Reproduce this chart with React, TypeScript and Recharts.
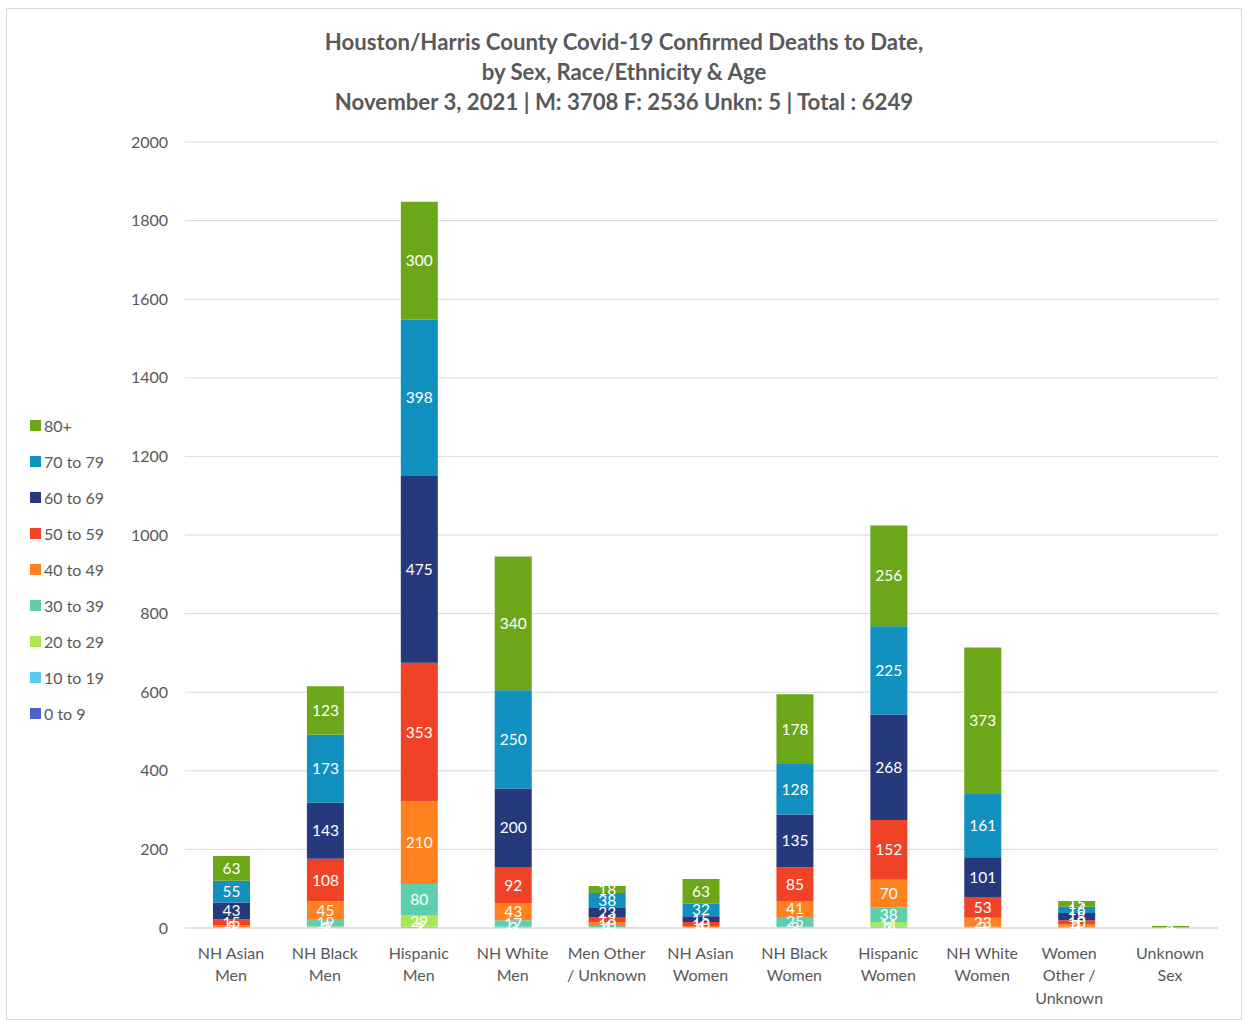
import React from 'react'
import { BarChart, Bar, XAxis, YAxis, CartesianGrid, LabelList } from 'recharts'

const categories = [
  'NH Asian Men', 'NH Black Men', 'Hispanic Men', 'NH White Men', 'Men Other / Unknown',
  'NH Asian Women', 'NH Black Women', 'Hispanic Women', 'NH White Women',
  'Women Other / Unknown', 'Unknown Sex',
]
const categoryLines = [
  ['NH Asian', 'Men'], ['NH Black', 'Men'], ['Hispanic', 'Men'], ['NH White', 'Men'],
  ['Men Other', '/ Unknown'], ['NH Asian', 'Women'], ['NH Black', 'Women'],
  ['Hispanic', 'Women'], ['NH White', 'Women'], ['Women', 'Other /', 'Unknown'],
  ['Unknown', 'Sex'],
]

const age0to9 = [0, 0, 1, 0, 0, 0, 0, 1, 0, 0, 0]
const age10to19 = [0, 1, 2, 0, 0, 0, 0, 3, 0, 0, 0]
const age20to29 = [0, 3, 29, 3, 1, 0, 3, 11, 0, 0, 0]
const age30to39 = [2, 19, 80, 17, 4, 1, 25, 38, 3, 3, 0]
const age40to49 = [5, 45, 210, 43, 10, 4, 41, 70, 23, 7, 0]
const age50to59 = [15, 108, 353, 92, 13, 10, 85, 152, 53, 10, 0]
const age60to69 = [43, 143, 475, 200, 23, 15, 135, 268, 101, 18, 0]
const age70to79 = [55, 173, 398, 250, 38, 32, 128, 225, 161, 16, 1]
const age80plus = [63, 123, 300, 340, 18, 63, 178, 256, 373, 15, 4]

const yTicks = [0, 200, 400, 600, 800, 1000, 1200, 1400, 1600, 1800, 2000]

// bottom to top stacking order
const series = [
  { key: 'a0', name: '0 to 9', values: age0to9, color: '#4B62C8' },
  { key: 'a10', name: '10 to 19', values: age10to19, color: '#5BCBF2' },
  { key: 'a20', name: '20 to 29', values: age20to29, color: '#A9E852' },
  { key: 'a30', name: '30 to 39', values: age30to39, color: '#5ECEB1' },
  { key: 'a40', name: '40 to 49', values: age40to49, color: '#FF8120' },
  { key: 'a50', name: '50 to 59', values: age50to59, color: '#F04226' },
  { key: 'a60', name: '60 to 69', values: age60to69, color: '#27397D' },
  { key: 'a70', name: '70 to 79', values: age70to79, color: '#1290BF' },
  { key: 'a80', name: '80+', values: age80plus, color: '#6BA718' },
]

const data = categories.map((c, i) => {
  const row: any = { name: c, idx: i }
  series.forEach(s => { row[s.key] = s.values[i] })
  return row
})

const FONT = 'Lato, "Open Sans", sans-serif'
const GREY = '#595959'

const XTick = ({ x, y, payload }: any) => {
  const lines = categoryLines[payload.index] || [payload.value]
  const cx = payload.index === 9 ? x - 8 : x - 1
  return (
    <text x={cx} y={y} textAnchor="middle" fill={GREY} fontSize={16} fontFamily={FONT}>
      {lines.map((l, i) => (
        <tspan key={i} x={cx} dy={22.5}>{l}</tspan>
      ))}
    </text>
  )
}

const renderLabel = (props: any) => {
  const { x, y, width, height, value } = props
  if (!value) return null
  return (
    <text x={x + width / 2} y={y + height / 2} dy={5.5} textAnchor="middle"
      fill="#ffffff" fontSize={15.5} fontFamily={FONT}>{value}</text>
  )
}

const App = () => (
  <div style={{ position: 'absolute', left: 6, top: 8, width: 1234, height: 1010, border: '1px solid #d9d9d9', background: '#fff', fontFamily: FONT }}>
    <div style={{ position: 'absolute', left: 0, right: 0, top: 18, textAlign: 'center', color: GREY, fontWeight: 700, fontSize: 22.2, lineHeight: '30px' }}>
      <div>Houston/Harris County Covid-19 Confirmed Deaths to Date,</div>
      <div>by Sex, Race/Ethnicity &amp; Age</div>
      <div>November 3, 2021 | M: 3708 F: 2536 Unkn: 5 | Total : 6249</div>
    </div>
    <div style={{ position: 'absolute', left: 23, top: 398 }}>
      {[...series].reverse().map(s => (
        <div key={s.key} style={{ display: 'flex', alignItems: 'center', height: 36, color: GREY, fontSize: 16 }}>
          <span style={{ display: 'inline-block', width: 11, height: 11, background: s.color, marginRight: 3 }} />
          {s.name}
        </div>
      ))}
    </div>
    <BarChart width={1234} height={1010} data={data}
      margin={{ top: 133, right: 23, left: 118, bottom: 10 }}>
      <CartesianGrid vertical={false} stroke="#d9d9d9" />
      <XAxis dataKey="name" interval={0} tickLine={false} axisLine={{ stroke: '#d9d9d9' }}
        height={81} tick={<XTick />} />
      <YAxis domain={[0, 2000]} ticks={yTicks} width={60} tickLine={false} axisLine={false}
        tickMargin={11} tick={{ fill: GREY, fontSize: 16, fontFamily: FONT }} />
      {series.map(s => (
        <Bar key={s.key} dataKey={s.key} name={s.name} stackId="a" fill={s.color}
          barSize={37} isAnimationActive={false}>
          <LabelList dataKey={s.key} content={renderLabel} />
        </Bar>
      ))}
    </BarChart>
  </div>
)

export default App
